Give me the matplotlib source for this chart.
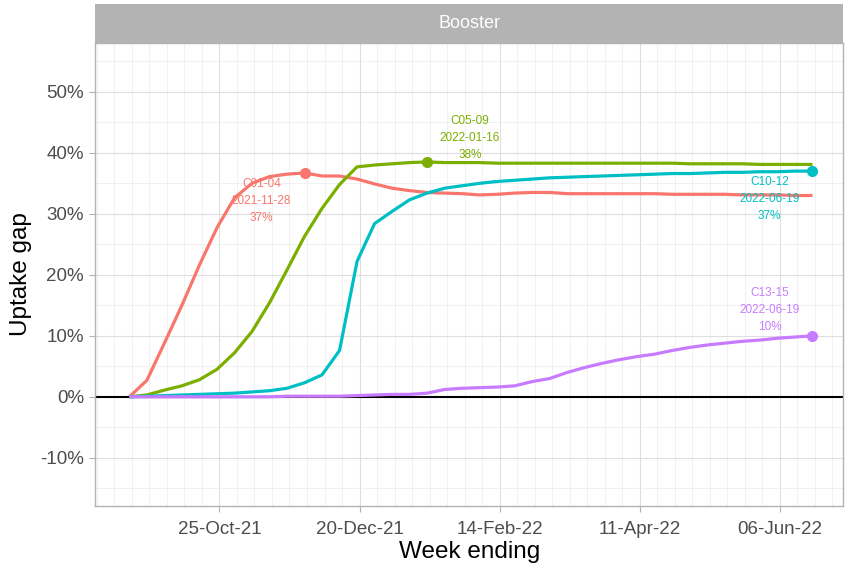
import matplotlib
matplotlib.use("Agg")
import matplotlib.pyplot as plt
import matplotlib.dates as mdates
import numpy as np
import pandas as pd

plt.rcParams['font.family'] = ['Liberation Sans', 'DejaVu Sans']

# weekly data, week ending Sundays
weeks = pd.date_range('2021-09-19', '2022-06-19', freq='7D')

c01_04 = [0.0, 2.7, 8.8, 15.0, 21.6, 27.7, 32.6, 35.0, 36.1, 36.5,
          36.7, 36.2, 36.2, 35.7, 34.9, 34.2, 33.8, 33.5, 33.4, 33.3,
          33.1, 33.2, 33.4, 33.5, 33.5, 33.3, 33.3, 33.3, 33.3, 33.3,
          33.3, 33.2, 33.2, 33.2, 33.2, 33.1, 33.1, 33.1, 33.0, 33.0]
c05_09 = [0.0, 0.3, 1.1, 1.8, 2.8, 4.5, 7.2, 10.7, 15.4, 20.8,
          26.3, 30.9, 34.8, 37.7, 38.0, 38.2, 38.4, 38.5, 38.4, 38.4,
          38.4, 38.3, 38.3, 38.3, 38.3, 38.3, 38.3, 38.3, 38.3, 38.3,
          38.3, 38.3, 38.2, 38.2, 38.2, 38.2, 38.1, 38.1, 38.1, 38.1]
c10_12 = [0.0, 0.1, 0.2, 0.3, 0.4, 0.5, 0.6, 0.8, 1.0, 1.4,
          2.3, 3.6, 7.6, 22.2, 28.4, 30.4, 32.3, 33.4, 34.2, 34.6,
          35.0, 35.3, 35.5, 35.7, 35.9, 36.0, 36.1, 36.2, 36.3, 36.4,
          36.5, 36.6, 36.6, 36.7, 36.8, 36.8, 36.9, 36.9, 37.0, 37.0]
c13_15 = [0.0, 0.0, 0.0, 0.0, 0.0, 0.0, 0.0, 0.0, 0.0, 0.1,
          0.1, 0.1, 0.1, 0.2, 0.3, 0.4, 0.4, 0.6, 1.2, 1.4,
          1.5, 1.6, 1.8, 2.5, 3.0, 4.0, 4.8, 5.5, 6.1, 6.6,
          7.0, 7.6, 8.1, 8.5, 8.8, 9.1, 9.3, 9.6, 9.8, 10.0]

groups = ['C01-04', 'C05-09', 'C10-12', 'C13-15']
series = [c01_04, c05_09, c10_12, c13_15]
colors = ['#F8766D', '#7CAE00', '#00BFC4', '#C77CFF']
# which week gets the highlighted point, and where its label sits (pixels)
peak_idx = [10, 17, 39, 39]
label_off = [(-43, -28), (43, 24), (-43, -28), (-43, 26)]

major_dates = pd.date_range('2021-10-25', periods=5, freq='56D')
y_ticks = [-0.1, 0.0, 0.1, 0.2, 0.3, 0.4, 0.5]

fig = plt.figure(figsize=(8.5, 5.66), dpi=100)
ax = fig.add_axes([0.112, 0.106, 0.88, 0.818])

for name, vals, col, pk, off in zip(groups, series, colors, peak_idx, label_off):
    y = np.array(vals) / 100
    ax.plot(weeks, y, color=col, lw=2.3, zorder=3, solid_capstyle='butt')
    ax.plot(weeks[pk], y[pk], 'o', color=col, ms=7, zorder=4)
    txt = f"{name}\n{weeks[pk].strftime('%Y-%m-%d')}\n{y[pk]*100:.0f}%"
    ax.annotate(txt, (weeks[pk], y[pk]), xytext=off, textcoords='offset pixels',
                ha='center', va='center', color=col, fontsize=8.5,
                linespacing=1.55, zorder=5)

ax.axhline(0, color='black', lw=1.5, zorder=2)

span = weeks[-1] - weeks[0]
ax.set_xlim(weeks[0] - span * 0.05, weeks[-1] + span * 0.045)
ax.set_ylim(-0.179, 0.58)

ax.set_xticks(major_dates)
ax.xaxis.set_major_formatter(mdates.DateFormatter('%d-%b-%y'))
ax.xaxis.set_minor_locator(mdates.WeekdayLocator(byweekday=mdates.MO))
ax.set_yticks(y_ticks)
ax.set_yticks(np.arange(-0.15, 0.56, 0.05), minor=True)
ax.set_yticklabels([f"{t*100:.0f}%" for t in y_ticks])

ax.grid(which='major', color='#DEDEDE', lw=0.8, zorder=0)
ax.grid(which='minor', color='#EBEBEB', lw=0.5, zorder=0)
ax.set_axisbelow(True)

ax.tick_params(which='major', colors='#B3B3B3', length=4, width=0.8,
               labelcolor='#4D4D4D', labelsize=13.5, pad=4)
ax.tick_params(axis='x', which='major', pad=7)
ax.tick_params(which='minor', length=0)
for s in ax.spines.values():
    s.set_color('#B3B3B3')
    s.set_linewidth(1)

ax.set_xlabel('Week ending', fontsize=17.5, labelpad=2)
ax.set_ylabel('Uptake gap', fontsize=17.5, labelpad=6)

# facet strip
strip = fig.add_axes([0.112, 0.924, 0.88, 0.069])
strip.set_facecolor('#B3B3B3')
strip.set_xticks([])
strip.set_yticks([])
for s in strip.spines.values():
    s.set_visible(False)
strip.text(0.5, 0.5, 'Booster', color='white', fontsize=13,
           ha='center', va='center', transform=strip.transAxes)

fig.savefig('out.png', dpi=100)
